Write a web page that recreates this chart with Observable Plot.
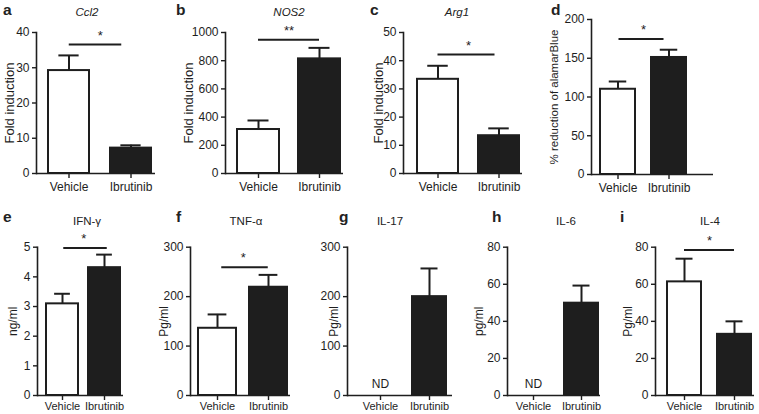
<!DOCTYPE html>
<html><head><meta charset="utf-8">
<script src="https://cdn.jsdelivr.net/npm/d3@7"></script>
<script src="https://cdn.jsdelivr.net/npm/@observablehq/plot@0.6"></script>
<style>
body{margin:0;background:#fff;}
#fig{position:relative;width:759px;height:414px;overflow:hidden;font-family:"Liberation Sans",Arial,sans-serif;color:#222;}
#fig svg{position:absolute;left:0;top:0;overflow:visible;}
.lbl{position:absolute;white-space:nowrap;transform:translate(-50%,-50%);line-height:1;}
.letter{font-weight:bold;font-size:15.5px;transform:translate(0,-50%);}
.title{font-size:11.5px;}
</style></head><body><div id="fig"></div>
<script>
// ---- data ----
const categories = ["Vehicle", "Ibrutinib"];
const panelLetters = ["a", "b", "c", "d", "e", "f", "g", "h", "i"];
const panelTitles = ["Ccl2", "NOS2", "Arg1", "", "IFN-γ", "TNF-α", "IL-17", "IL-6", "IL-4"];
const yLabels = ["Fold induction", "Fold induction", "Fold induction", "% reduction of alamarBlue", "ng/ml", "Pg/ml", "Pg/ml", "pg/ml", "Pg/ml"];
const yTicks = [[0,10,20,30,40],[0,200,400,600,800,1000],[0,10,20,30,40,50],[0,50,100,150,200],[0,1,2,3,4,5],[0,100,200,300],[0,100,200,300],[0,20,40,60,80],[0,20,40,60,80]];
const means = [[29.2,7.2],[312,813],[33.4,13.4],[110,151],[3.09,4.31],[136,219],[null,200],[null,49.8],[61.3,33]];
const errors = [[4.3,0.8],[64,78],[4.8,2.6],[10,10],[0.34,0.44],[28,25],[null,57],[null,9.5],[12.5,7]];
const sigLevel = [36.6,948,42.2,175,4.97,259.5,null,null,78.5];
const sigLabel = ["*","**","*","*","*","*",null,null,"*"];
const ndLabel = [null,null,null,null,null,null,"ND","ND",null];

// ---- layout (page pixels) ----
const layout = [
  {axis:36, end:155, top:32, base:173, v:[48,89], i:[110,152], lx:3, ly:10, tx:87, ty:13, yl:9, lfs:13, xfs:12, xpad:4, sl:0, sr:9},
  {axis:225, end:343, top:32, base:173, v:[237,279], i:[298,340], lx:176, ly:10, tx:289, ty:13, yl:188, lfs:13, xfs:12, xpad:4, sl:0, sr:0},
  {axis:403, end:522, top:32, base:173, v:[417,457], i:[477,519], lx:370, ly:10, tx:457, ty:13, yl:378, lfs:13, xfs:12, xpad:4, sl:0, sr:4},
  {axis:591, end:713, top:19, base:174, v:[600,634], i:[650,686], lx:551, ly:10, tx:650, ty:13, yl:554, lfs:11.5, xfs:12, xpad:4, sl:1, sr:5},
  {axis:37, end:123, top:246.7, base:395, v:[46,79], i:[89,121], lx:3, ly:217, tx:87, ty:222, yl:13, lfs:12, xfs:11, xpad:2, sl:1, sr:-3},
  {axis:190, end:290, top:246.7, base:395, v:[198,237], i:[250,288], lx:176, ly:217, tx:246, ty:222, yl:164, lfs:12, xfs:11, xpad:2, sl:4, sr:0},
  {axis:347, end:452, top:246.7, base:395, v:[363,397], i:[412,446], lx:339, ly:217, tx:390, ty:222, yl:334, lfs:12, xfs:11, xpad:2, sl:0, sr:0},
  {axis:507, end:600, top:246.7, base:395, v:[516,550], i:[564,598], lx:492, ly:217, tx:566, ty:222, yl:479, lfs:12, xfs:11, xpad:2, sl:0, sr:0},
  {axis:655, end:754, top:246.7, base:395, v:[667,701], i:[717,751], lx:620, ly:217, tx:710, ty:222, yl:628, lfs:12, xfs:11, xpad:2, sl:0, sr:0}
];

const fig = document.getElementById("fig");
const ink = "#1e1e1e";

layout.forEach((L, k) => {
  const bw = ((L.v[1]-L.v[0]) + (L.i[1]-L.i[0])) / 2;
  const W = L.i[1] - L.v[0];
  const gap = W - 2*bw;
  const p = gap / (bw + gap);
  const rows = categories.map((c, j) => ({
    cat: c,
    mean: means[k][j],
    top: means[k][j] == null ? null : means[k][j] + errors[k][j]
  }));
  const present = rows.filter(d => d.mean != null);
  const ticks = yTicks[k];
  const marks = [
    Plot.barY(present.filter(d => d.cat === "Vehicle"), {x:"cat", y:"mean", fill:"white", stroke:ink, strokeWidth:2}),
    Plot.barY(present.filter(d => d.cat === "Ibrutinib"), {x:"cat", y:"mean", fill:ink, stroke:ink, strokeWidth:2}),
    Plot.ruleX(present, {x:"cat", y1:"mean", y2:"top", stroke:ink, strokeWidth:2}),
    Plot.tickY(present, {x:"cat", y:"top", stroke:ink, strokeWidth:2, insetLeft:bw*0.25, insetRight:bw*0.25}),
    Plot.ruleY([0], {stroke:ink, strokeWidth:1.6}),
    Plot.frame({anchor:"left", stroke:ink, strokeWidth:1.6}),
    Plot.axisY({ticks, tickFormat:d => String(d), tickSize:4, tickPadding:3, fontSize:12, stroke:ink, strokeWidth:1.4, label:null}),
    Plot.axisY({ticks:[], tickSize:0, label:yLabels[k], labelAnchor:"center", labelArrow:"none", fontSize:L.lfs, labelOffset:L.axis - L.yl + 0.4*L.lfs}),
    Plot.axisX({tickSize:5, tickPadding:L.xpad, fontSize:L.xfs, stroke:ink, strokeWidth:1.4, label:null})
  ];
  if (sigLevel[k] != null) {
    marks.push(Plot.ruleY([{a:categories[0], b:categories[1], y:sigLevel[k]}], {x1:"a", x2:"b", y:"y", stroke:ink, strokeWidth:2, insetLeft:bw/2 + L.sl, insetRight:bw/2 + L.sr}));
    marks.push(Plot.text([{x:categories[0], y:sigLevel[k], t:sigLabel[k]}], {x:"x", y:"y", text:"t", dx:(bw+gap)/2, dy:-9, fontSize:13, fill:ink}));
  }
  if (ndLabel[k] != null) {
    marks.push(Plot.text([{x:categories[0], y:0, t:ndLabel[k]}], {x:"x", y:"y", text:"t", dy:-11, fontSize:12, fill:ink}));
  }
  const svg = Plot.plot({
    width:759, height:414,
    marginLeft:L.axis, marginRight:759-L.end, marginTop:L.top, marginBottom:414-L.base,
    style:{background:"transparent", fontFamily:'"Liberation Sans", Arial, sans-serif', color:ink},
    x:{type:"band", domain:categories, range:[L.v[0], L.i[1]], paddingInner:p, paddingOuter:0},
    y:{domain:[0, ticks[ticks.length-1]]},
    marks
  });
  fig.appendChild(svg);

  const letter = document.createElement("div");
  letter.className = "lbl letter";
  letter.style.left = L.lx + "px"; letter.style.top = L.ly + "px";
  letter.textContent = panelLetters[k];
  fig.appendChild(letter);

  if (panelTitles[k]) {
    const t = document.createElement("div");
    t.className = "lbl title";
    t.style.left = L.tx + "px"; t.style.top = L.ty + "px";
    if (k < 3) t.style.fontStyle = "italic";
    t.textContent = panelTitles[k];
    fig.appendChild(t);
  }
});
</script></body></html>
